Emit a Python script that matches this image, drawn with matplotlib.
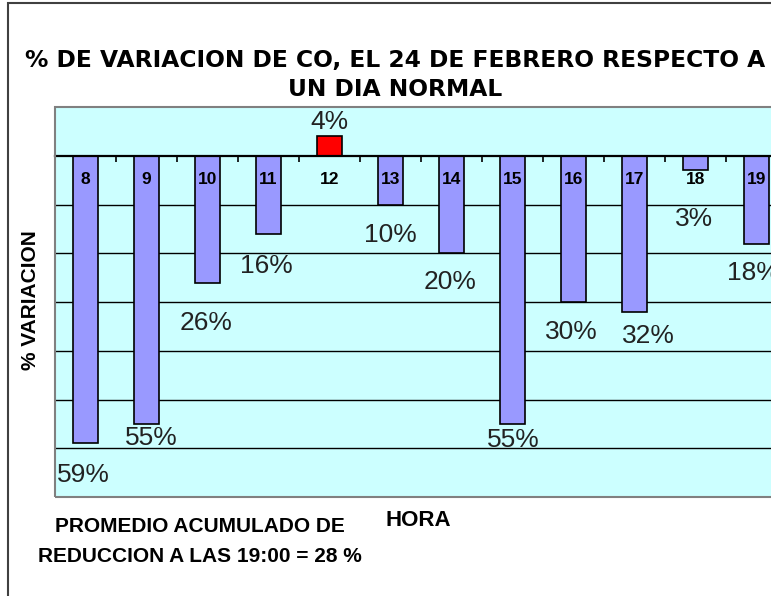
import matplotlib
matplotlib.use("Agg")
import matplotlib.pyplot as plt
from matplotlib.patches import Rectangle

# Data
horas = ["8", "9", "10", "11", "12", "13", "14", "15", "16", "17", "18", "19"]
variacion = [-59, -55, -26, -16, 4, -10, -20, -55, -30, -32, -3, -18]
etiquetas = ["59%", "55%", "26%", "16%", "4%", "10%", "20%", "55%", "30%", "32%", "3%", "18%"]
grid_vals = [-10, -20, -30, -40, -50, -60]

# label offsets from bar end (pixels), to mimic the original placement
lab_dx = [-2, 5, -1, -2, 0, 0, -1, 1, -2, 14, -1, -3]
lab_dy = [-32, -14, -40, -32, 14, -31, -29, -16, -30, -24, -49, -29]

narrow = ["Liberation Sans Narrow", "DejaVu Sans Condensed", "DejaVu Sans"]
sans = ["Liberation Sans", "DejaVu Sans"]

fig = plt.figure(figsize=(7.71, 5.96), dpi=100)
W, H = 771, 596
ax = fig.add_axes([55 / W, (H - 497) / H, 732 / W, 390 / H])
ax.set_facecolor("#CCFFFF")
ax.set_axisbelow(False)

x = list(range(len(horas)))
colors = ["#FF0000" if v > 0 else "#9999FF" for v in variacion]
ax.bar(x, variacion, width=0.41, color=colors, edgecolor="black", linewidth=1.2, zorder=2)
ax.hlines(grid_vals, -0.5, len(horas) - 0.5, colors="black", linewidth=1, zorder=0.5)

ax.set_xlim(-0.5, len(horas) - 0.5)
ax.set_ylim(-70, 10)

for s in ["top", "left", "right"]:
    ax.spines[s].set_visible(False)
ax.spines["bottom"].set_position(("data", 0))
ax.spines["bottom"].set_linewidth(1.6)
ax.spines["bottom"].set_zorder(3)
ax.add_patch(Rectangle((0, 0), 1, 1, transform=ax.transAxes, fill=False,
                       edgecolor="#808080", linewidth=1.5, clip_on=False, zorder=4))

ax.set_yticks([])
ax.set_xticks([i - 0.5 for i in range(len(horas) + 1)])
ax.set_xticklabels([])
ax.tick_params(axis="x", which="major", direction="out", length=4, width=1.2, color="black")
ax.set_xticks(x, minor=True)
ax.set_xticklabels(horas, minor=True, fontsize=12.5, fontweight="bold", family=sans)
ax.tick_params(axis="x", which="minor", length=0, pad=12)

for i, (v, lab) in enumerate(zip(variacion, etiquetas)):
    ax.annotate(lab, (i, v), xytext=(lab_dx[i], lab_dy[i]), textcoords="offset pixels",
                ha="center", va="center", fontsize=19, color="#222222",
                family=sans, zorder=6, annotation_clip=False)

fig.text(395 / W, 1 - 61 / H, "% DE VARIACION DE CO, EL 24 DE FEBRERO RESPECTO A",
         ha="center", va="center", fontsize=16.8, fontweight="bold", family=narrow)
fig.text(395 / W, 1 - 89 / H, "UN DIA NORMAL",
         ha="center", va="center", fontsize=16.8, fontweight="bold", family=narrow)
fig.text(30 / W, 1 - 300 / H, "% VARIACION", rotation=90, ha="center", va="center",
         fontsize=15, fontweight="bold", family=sans)
fig.text(418 / W, 1 - 520 / H, "HORA", ha="center", va="center",
         fontsize=16, fontweight="bold", family=sans)
fig.text(200 / W, 1 - 527 / H, "PROMEDIO ACUMULADO DE", ha="center", va="center",
         fontsize=15, fontweight="bold", family=sans)
fig.text(200 / W, 1 - 556 / H, "REDUCCION A LAS 19:00 = 28 %", ha="center", va="center",
         fontsize=15, fontweight="bold", family=sans)

# outer chart border (left and top edges visible)
fig.patches.append(Rectangle((8 / W, -0.1), 1.2, 1 - 3 / H + 0.1, transform=fig.transFigure,
                             fill=False, edgecolor="#404040", linewidth=1.5))

fig.savefig("out.png", dpi=100)
